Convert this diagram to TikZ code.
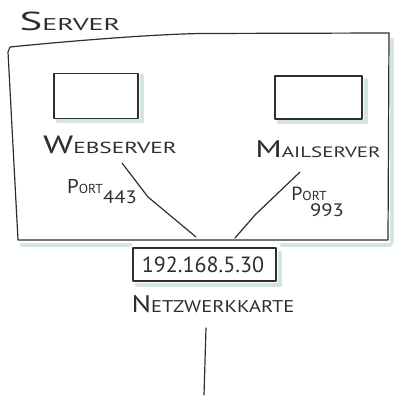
\documentclass[tikz,border=0pt]{standalone}
\usepackage{fontspec}
\newfontfamily\hand{PT Sans}
\definecolor{shadowc}{HTML}{D4E4E4}
\definecolor{inkc}{HTML}{2E2E2E}
\newcommand\hw[5]{\scalebox{#5}[1]{\hand{\fontsize{#1}{#1}\selectfont #3}{\fontsize{#2}{#2}\selectfont #4}}}
\begin{document}
\begin{tikzpicture}[x=1pt,y=-1pt,
  ink/.style={draw=inkc, line width=1.2pt, line cap=round, line join=round},
  shade/.style={draw=shadowc, line width=4.5pt, line cap=round},
  lbl/.style={text=inkc, inner sep=0pt, anchor=center}]
\useasboundingbox (0,0) rectangle (400,401);
% shadows
\draw[shade] (392,40) -- (392,242);
\draw[shade] (22,245) -- (130,245);
\draw[shade] (282,245) -- (390,245);
\draw[shade] (142,76) -- (142,121) -- (58,121);
\draw[shade] (366,80) -- (366,122) -- (279,122);
\draw[shade] (280,253) -- (280,285) -- (137,285);
% server outline
\coordinate (s1) at (10,47);
\coordinate (s2) at (389,33);
\coordinate (s3) at (388,240);
\coordinate (s4) at (18,240);
\coordinate (s5) at (8,52);
\draw[ink] (s1) .. controls (70,41) and (150,34.5) .. (200,33.5) -- (s2) -- (s3) -- (s4) -- (s5) -- (s1);
\node[lbl] (title) at (70,21) {\hw{26}{17}{S}{ERVER}{1.65}};
% boxes
\node[ink, minimum width=84pt, minimum height=45pt, inner sep=0pt] (web) at (96,96) {};
\node[ink, minimum width=87pt, minimum height=43pt, inner sep=0pt] (mail) at (318.5,97.5) {};
\node[lbl] (weblbl) at (110,145) {\hw{25}{16}{W}{EBSERVER}{1.46}};
\node[lbl] (maillbl) at (318,149) {\hw{24}{15}{M}{AILSERVER}{1.4}};
% ip
\node[ink, minimum width=143pt, minimum height=33pt, inner sep=0pt] (ip) at (204.5,264.5) {};
\node[lbl] (iplbl) at (203,265) {\hand\scalebox{1.0}[1]{\fontsize{22}{22}\selectfont 192.168.5.30}};
\node[lbl] (niclbl) at (213,304) {\hw{24}{17}{N}{ETZWERKKARTE}{1.21}};
% ports
\node[lbl] (p1) at (85,186) {\hw{20}{13}{P}{ORT}{1.05}};
\node[lbl] (n1) at (120,197) {\hand\scalebox{1.15}[1]{\fontsize{18}{18}\selectfont 443}};
\node[lbl] (p2) at (309,194) {\hw{19}{13}{P}{ORT}{1.05}};
\node[lbl] (n2) at (327,210) {\hand\scalebox{1.15}[1]{\fontsize{18}{18}\selectfont 993}};
% connectors
\coordinate (w1) at (122,163);
\coordinate (wb) at (148,197);
\coordinate (w2) at (196,237);
\coordinate (m1) at (300,172);
\coordinate (mb) at (255,215);
\coordinate (m2) at (235,238);
\draw[ink] (w1) -- (wb) -- (w2);
\draw[ink] (m1) -- (mb) -- (m2);
\coordinate (c1) at (206,328);
\coordinate (c2) at (204,395);
\draw[ink] (c1) -- (c2);
\end{tikzpicture}
\end{document}
